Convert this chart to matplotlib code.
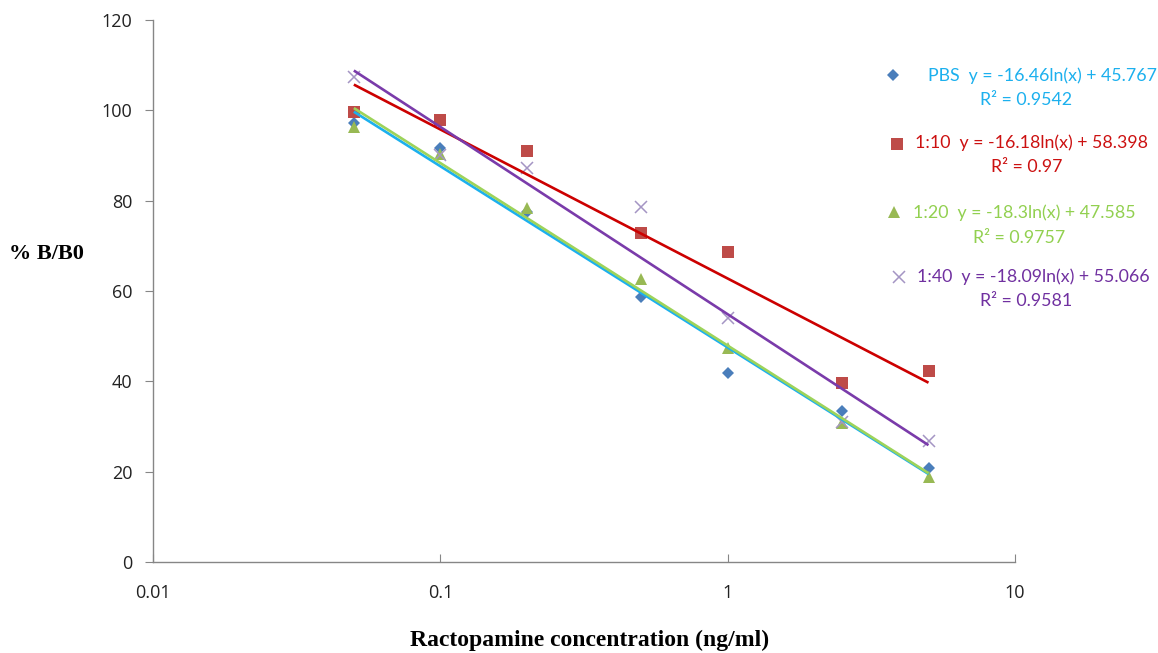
import numpy as np
import matplotlib
matplotlib.use("Agg")
import matplotlib.pyplot as plt
from matplotlib.lines import Line2D

# Ractopamine concentrations (ng/ml)
concentration = [0.05, 0.1, 0.2, 0.5, 1, 2.5, 5]

# %B/B0 for each dilution
pbs = [97.1, 91.6, 77.6, 58.6, 41.8, 33.4, 20.9]
dil_1_10 = [99.6, 97.9, 91.0, 72.9, 68.7, 39.7, 42.3]
dil_1_20 = [96.4, 90.3, 78.4, 62.6, 47.3, 30.7, 18.8]
dil_1_40 = [107.4, 90.1, 87.3, 78.7, 54.0, 31.1, 26.8]

series_names = ["PBS", "1:10", "1:20", "1:40"]
series_values = [pbs, dil_1_10, dil_1_20, dil_1_40]

# Reported logarithmic fits: y = slope*ln(x) + intercept
fit_slope = [-16.46, -16.18, -18.3, -18.09]
fit_intercept = [45.767, 58.398, 47.585, 55.066]
fit_r2 = ["0.9542", "0.97", "0.9757", "0.9581"]

x_ticks = [0.01, 0.1, 1, 10]
x_tick_labels = ["0.01", "0.1", "1", "10"]
y_ticks = [0, 20, 40, 60, 80, 100, 120]

marker_styles = [
    dict(marker="D", color="#4A7EBB", ms=6.0, mew=0),
    dict(marker="s", color="#BE4B48", ms=8.0, mew=0),
    dict(marker="^", color="#98B954", ms=8.5, mew=0),
    dict(marker="x", color="#A495C4", ms=8.5, mew=1.1),
]
line_colors = ["#1CB0EE", "#CC0000", "#9DD35A", "#7A3BAA"]
text_colors = ["#1CB0EE", "#CC1111", "#92D050", "#7030A0"]

W, H = 1158, 653
fig = plt.figure(figsize=(W / 100, H / 100), dpi=100)


def fx(px):
    return px / W


def fy(py):
    return 1 - py / H


ax = fig.add_axes([fx(153), fy(562), fx(1015) - fx(153), fy(20) - fy(562)])
ax.set_xscale("log")
ax.set_xlim(0.01, 10)
ax.set_ylim(0, 120)

# data markers
for vals, st in zip(series_values, marker_styles):
    ax.plot(concentration, vals, linestyle="none", zorder=3,
            marker=st["marker"], color=st["color"], markersize=st["ms"],
            markeredgewidth=st["mew"], markeredgecolor=st["color"])

# logarithmic trendlines fitted to each series
lnx = np.log(concentration)
xs = np.logspace(np.log10(concentration[0]), np.log10(concentration[-1]), 200)
for vals, c in zip(series_values, line_colors):
    a, b = np.polyfit(lnx, vals, 1)
    ax.plot(xs, a * np.log(xs) + b, color=c, lw=1.9, zorder=4,
            solid_capstyle="butt")

# axes styling
for side in ("top", "right"):
    ax.spines[side].set_visible(False)
for side in ("left", "bottom"):
    ax.spines[side].set_color("#868686")
    ax.spines[side].set_linewidth(1.0)

ax.set_xticks(x_ticks)
ax.set_xticklabels(x_tick_labels, fontfamily="Open Sans", fontsize=13,
                   color="#222222")
ax.xaxis.set_minor_locator(matplotlib.ticker.NullLocator())
ax.tick_params(axis="x", direction="in", length=6, color="#868686", pad=16)
ax.set_yticks(y_ticks)
ax.set_yticklabels([str(v) for v in y_ticks], fontfamily="Open Sans",
                   fontsize=13, color="#222222")
ax.tick_params(axis="y", direction="out", length=6, color="#868686", pad=9)

fig.text(fx(590), fy(640), "Ractopamine concentration (ng/ml)",
         fontfamily="Liberation Serif", fontweight="bold", fontsize=17,
         ha="center", va="center")
fig.text(fx(46), fy(254), "% B/B0", fontfamily="Liberation Serif",
         fontweight="bold", fontsize=16, ha="center", va="center")

# legend with trendline equations
legend_rows = [
    dict(mx=893, my=75, tx=928, ty=76, rx=1026, ry=100),
    dict(mx=897, my=144, tx=915, ty=143, rx=1027, ry=167),
    dict(mx=894, my=212, tx=913, ty=213, rx=1019, ry=238),
    dict(mx=899, my=277, tx=917, ty=277, rx=1026, ry=301),
]
for name, a, b, r2, st, tc, row in zip(series_names, fit_slope, fit_intercept,
                                       fit_r2, marker_styles, text_colors,
                                       legend_rows):
    fig.add_artist(Line2D([fx(row["mx"])], [fy(row["my"])],
                          transform=fig.transFigure, linestyle="none",
                          marker=st["marker"], color=st["color"],
                          markersize=st["ms"], markeredgewidth=st["mew"],
                          markeredgecolor=st["color"]))
    fig.text(fx(row["tx"]), fy(row["ty"]),
             f"{name}  y = {a:g}ln(x) + {b:g}",
             fontfamily="Lato", fontsize=12.8, color=tc,
             ha="left", va="center")
    fig.text(fx(row["rx"]), fy(row["ry"]), f"R² = {r2}",
             fontfamily="Lato", fontsize=12.8, color=tc,
             ha="center", va="center")

fig.savefig("out.png", dpi=100)
